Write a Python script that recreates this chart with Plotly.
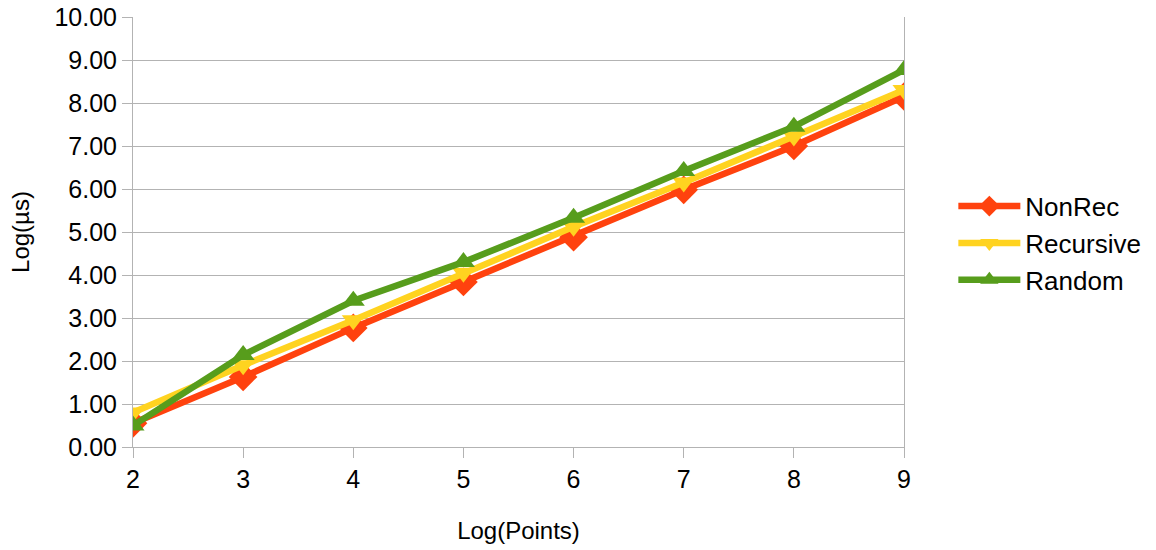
import plotly.graph_objects as go

x_points = [2, 3, 4, 5, 6, 7, 8, 9]
nonrec = [0.55, 1.63, 2.77, 3.84, 4.88, 5.98, 7.00, 8.15]
recursive = [0.80, 1.90, 2.95, 4.05, 5.12, 6.15, 7.22, 8.30]
random_ = [0.50, 2.14, 3.40, 4.30, 5.33, 6.42, 7.45, 8.77]
y_ticks = [i for i in range(0, 11)]
y_tick_labels = [f"{v:.2f}" for v in y_ticks]

FONT = "Liberation Sans"

fig = go.Figure()
series = [
    ("NonRec", nonrec, "#ff420e", "diamond", 22),
    ("Recursive", recursive, "#ffd320", "triangle-down", 20),
    ("Random", random_, "#579d1c", "triangle-up", 20),
]
for name, vals, color, sym, size in series:
    fig.add_trace(go.Scatter(
        x=x_points, y=vals, name=name, mode="lines+markers",
        line=dict(color=color, width=6.5),
        marker=dict(symbol=sym, size=size, color=color),
    ))

fig.update_layout(
    width=1156, height=550,
    margin=dict(l=133, r=252, t=17, b=103, autoexpand=False),
    paper_bgcolor="white", plot_bgcolor="white",
    font=dict(family=FONT, size=25, color="#000000"),
    legend=dict(x=1.064, y=0.474, xanchor="left", yanchor="middle",
                xref="paper", font=dict(size=26), itemwidth=62,
                tracegroupgap=0, bgcolor="rgba(0,0,0,0)"),
    showlegend=True,
    annotations=[dict(text="Log(µs)", textangle=-90, xref="paper", yref="paper",
                      x=-0.1466, y=0.5, xanchor="center", yanchor="middle",
                      showarrow=False, font=dict(size=24))],
)
fig.update_xaxes(
    range=[2, 9], tickvals=x_points, ticktext=[str(v) for v in x_points],
    showgrid=False, zeroline=False, showline=True, linecolor="#b3b3b3", linewidth=1,
    ticks="outside", ticklen=10, tickcolor="#b3b3b3", automargin=False,
    title=dict(text="Log(Points)", standoff=30, font=dict(size=24)),
    tickfont=dict(size=25),
)
fig.update_yaxes(
    range=[0, 10], tickvals=y_ticks, ticktext=y_tick_labels,
    showgrid=True, gridcolor="#b3b3b3", gridwidth=1, zeroline=False,
    showline=True, mirror=True, linecolor="#b3b3b3", linewidth=1,
    ticks="outside", ticklen=10, tickcolor="#b3b3b3", automargin=False,
    tickfont=dict(size=25),
)
fig.write_html("out.html")
